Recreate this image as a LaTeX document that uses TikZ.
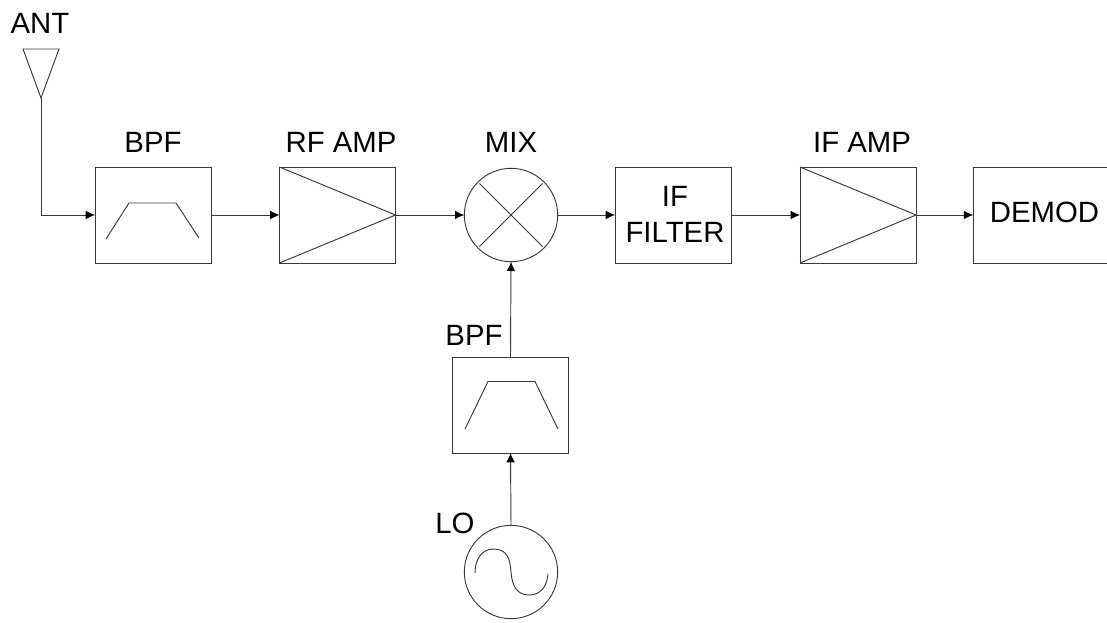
\documentclass[tikz,border=0pt]{standalone}
\usepackage{fontspec}
\setmainfont{Liberation Sans}
\usetikzlibrary{arrows.meta}
\definecolor{ln}{gray}{0.22}
\tikzset{
  wire/.style={draw=ln,line width=0.7pt},
  sig/.style={wire,-{Latex[length=7pt,width=6.5pt,color=black]}},
  crossline/.style={wire,shorten >=1.5pt,shorten <=1.5pt},
  blockbox/.style={rectangle,draw=ln,line width=0.7pt,inner sep=0pt,outer sep=0pt,minimum width=87pt,minimum height=72pt,align=center},
  roundbox/.style={circle,draw=ln,line width=0.7pt,inner sep=0pt,outer sep=0pt,minimum size=70pt},
  lbl/.style={anchor=base,inner sep=0pt,font=\fontsize{22pt}{27pt}\selectfont}
}
\begin{document}
\begin{tikzpicture}[x=0.75pt,y=-0.75pt]
\useasboundingbox (0,0) rectangle (1107,622);
\clip (0,0) rectangle (1107,622);

% blocks
\node[blockbox] (bpfa) at (153,215) {};
\node[blockbox] (rfamp) at (337.5,215) {};
\node[roundbox] (mix) at (511,215) {};
\node[blockbox] (iff) at (673,215) {};
\node[blockbox] (ifamp) at (858,215) {};
\node[blockbox,minimum width=107pt] (demod) at (1044.5,215) {};
\node[blockbox] (bpfb) at (510.5,405) {};
\node[roundbox] (lo) at (511,572) {};

% box texts
\node[lbl] (ifa) at (675,206) {IF};
\node[lbl] (ifb) at (675,242) {FILTER};
\node[lbl] (demodt) at (1044.5,222) {DEMOD};

% labels
\node[lbl] (lant) at (40,33) {ANT};
\node[lbl] (lbpfa) at (153,152) {BPF};
\node[lbl] (lrf) at (341,152) {RF AMP};
\node[lbl] (lmix) at (511,152) {MIX};
\node[lbl] (lifa) at (862,152) {IF AMP};
\node[lbl] (lbpfb) at (474,345) {BPF};
\node[lbl] (llo) at (455,533) {LO};

% antenna
\coordinate (anttip) at (41,98);
\coordinate (antcorner) at (41,215);
\draw[wire,line join=miter] (23,49) -- (59,49) -- (anttip) -- cycle;

% amplifiers
\draw[wire] (rfamp.north west) -- (rfamp.east) -- (rfamp.south west);
\draw[wire] (ifamp.north west) -- (ifamp.east) -- (ifamp.south west);

% mixer cross
\draw[crossline] (mix.45) -- (mix.225);
\draw[crossline] (mix.135) -- (mix.315);

% filter shapes
\draw[wire] (106,239) -- (129,203) -- (176,203) -- (199,238);
\draw[wire] (465,429) -- (488,381.5) -- (535,381.5) -- (558,429);

% oscillator sine
\draw[wire] (475,573) .. controls (475,558) and (483,549) .. (493,549)
  .. controls (507,549) and (510,558) .. (511,572)
  .. controls (512,586) and (517,595) .. (529,595)
  .. controls (541,595) and (547,586) .. (548,574);

% connectors
\draw[sig] (anttip) -- (antcorner) -- (bpfa.west);
\draw[sig] (bpfa.east) -- (rfamp.west);
\draw[sig] (rfamp.east) -- (mix.west);
\draw[sig] (mix.east) -- (iff.west);
\draw[sig] (iff.east) -- (ifamp.west);
\draw[sig] (ifamp.east) -- (demod.west);
\draw[sig] (lo.north) -- (bpfb.south);
\draw[sig] (bpfb.north) -- (mix.south);
\end{tikzpicture}
\end{document}
